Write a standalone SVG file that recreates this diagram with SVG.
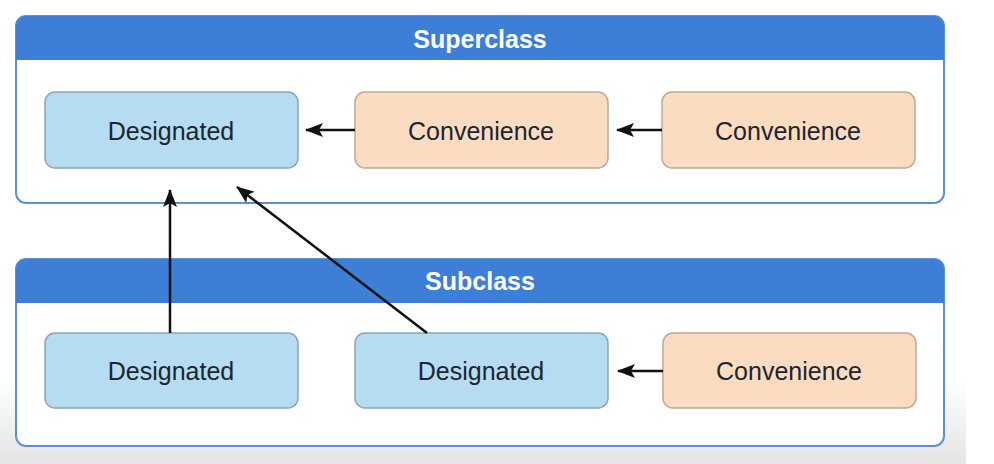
<svg xmlns="http://www.w3.org/2000/svg" width="994" height="464" viewBox="0 0 994 464">
<defs>
<linearGradient id="bg" x1="0" y1="0" x2="0" y2="1">
<stop offset="0" stop-color="#ffffff"/>
<stop offset="1" stop-color="#e4e4e4"/>
</linearGradient>
<marker id="arr" viewBox="0 0 18 14" refX="17" refY="7" markerWidth="18" markerHeight="14" orient="auto" markerUnits="userSpaceOnUse">
<path d="M0,0 L18,7 L0,14 L4,7 Z" fill="#111"/>
</marker>
<style>
.box{fill:#ffffff;stroke:#5a90d8;stroke-width:2}
.hdr{fill:#3d7fd6}
.htxt{font-family:"Liberation Sans",Arial,sans-serif;font-size:25px;font-weight:bold;fill:#ffffff;text-anchor:middle}
.des{fill:#b5dcf0;stroke:#8fa4b4;stroke-width:1.5}
.con{fill:#fcdcc0;stroke:#bba99a;stroke-width:1.5}
.ntxt{font-family:"Liberation Sans",Arial,sans-serif;font-size:25px;fill:#1c2530;text-anchor:middle}
.ln{stroke:#111;stroke-width:2.5;fill:none;marker-end:url(#arr)}
</style>
</defs>
<rect x="0" y="0" width="994" height="464" fill="#ffffff"/>
<rect x="0" y="380" width="966" height="84" fill="url(#bg)"/>

<g id="superclass">
<rect class="box" x="16" y="16" width="928" height="187" rx="10"/>
<path class="hdr" d="M16,60 L16,26 A10,10 0 0 1 26,16 L934,16 A10,10 0 0 1 944,26 L944,60 Z"/>
<text class="htxt" x="480" y="48">Superclass</text>
</g>
<g id="subclass">
<rect class="box" x="16" y="259" width="928" height="187" rx="10"/>
<path class="hdr" d="M16,303 L16,269 A10,10 0 0 1 26,259 L934,259 A10,10 0 0 1 944,269 L944,303 Z"/>
<text class="htxt" x="480" y="290">Subclass</text>
</g>

<g id="sup-designated">
<rect class="des" x="45" y="92" width="253" height="76" rx="10"/>
<text class="ntxt" x="171" y="140">Designated</text>
</g>
<g id="sup-convenience1">
<rect class="con" x="355" y="92" width="253" height="76" rx="10"/>
<text class="ntxt" x="481" y="140">Convenience</text>
</g>
<g id="sup-convenience2">
<rect class="con" x="662" y="92" width="253" height="76" rx="10"/>
<text class="ntxt" x="788" y="140">Convenience</text>
</g>
<g id="sub-designated1">
<rect class="des" x="45" y="333" width="253" height="75" rx="10"/>
<text class="ntxt" x="171" y="380">Designated</text>
</g>
<g id="sub-designated2">
<rect class="des" x="355" y="333" width="253" height="75" rx="10"/>
<text class="ntxt" x="481" y="380">Designated</text>
</g>
<g id="sub-convenience">
<rect class="con" x="663" y="333" width="253" height="75" rx="10"/>
<text class="ntxt" x="789" y="380">Convenience</text>
</g>

<g id="connectors">
<line class="ln" x1="355" y1="130" x2="306" y2="130"/>
<line class="ln" x1="662" y1="130" x2="617" y2="130"/>
<line class="ln" x1="663" y1="371" x2="618" y2="371"/>
<line class="ln" x1="170" y1="333" x2="170" y2="190"/>
<line class="ln" x1="427" y1="333" x2="237" y2="187"/>
</g>
</svg>
